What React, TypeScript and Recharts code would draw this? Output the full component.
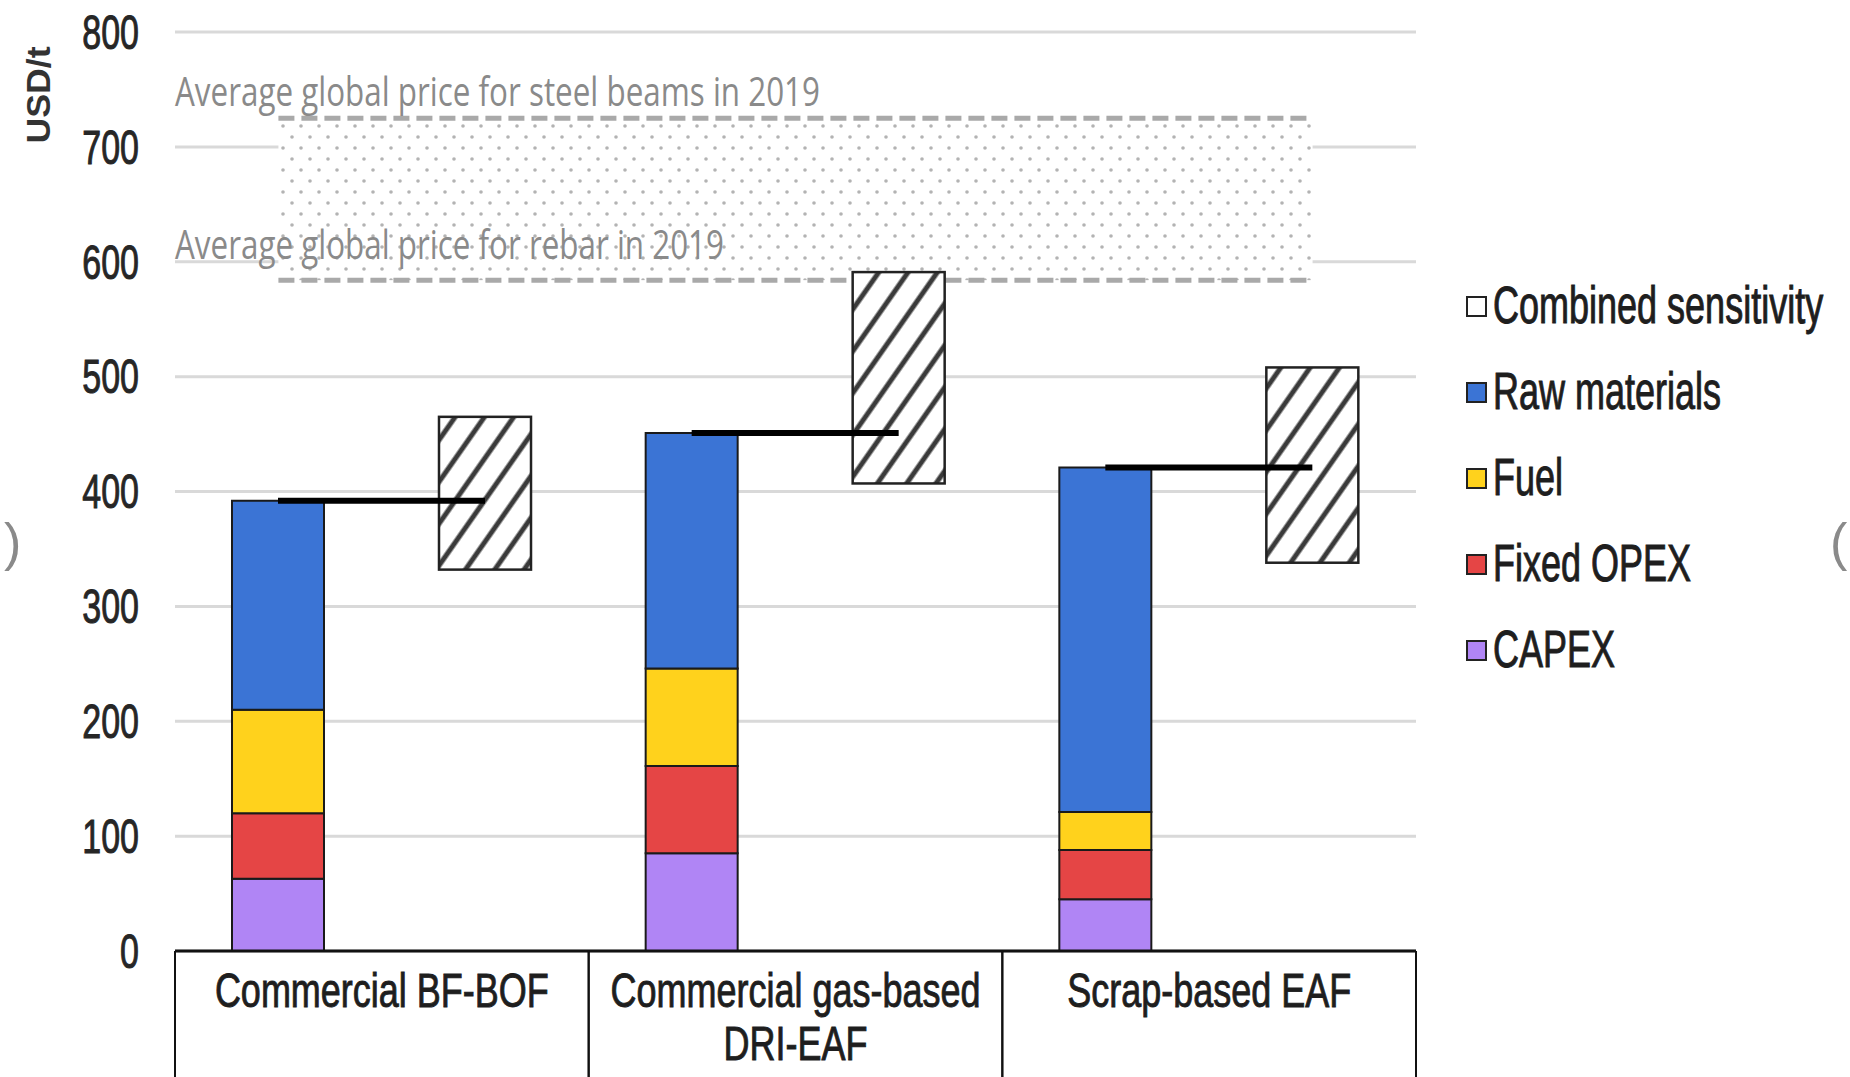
import React from "react";
import { BarChart, Bar, XAxis, YAxis, CartesianGrid, ReferenceArea, Legend } from "recharts";

// values, USD per tonne
const CATEGORIES = ["Commercial BF-BOF", "Commercial gas-based DRI-EAF", "Scrap-based EAF"];
const CATEGORY_LINES = [["Commercial BF-BOF"], ["Commercial gas-based", "DRI-EAF"], ["Scrap-based EAF"]];
const CAPEX = [63, 85, 45];
const FIXED_OPEX = [57, 76, 43];
const FUEL = [90, 85, 33];
const RAW_MATERIALS = [182, 205, 300];
const SENS_LOW = [332, 407, 338];
const SENS_HIGH = [465, 591, 508];
const PRICE_REBAR = 584;
const PRICE_BEAMS = 725;
const Y_TICKS = [0, 100, 200, 300, 400, 500, 600, 700, 800];
const BEAMS_LABEL = "Average global price for steel beams in 2019";
const REBAR_LABEL = "Average global price for rebar in 2019";

const SERIES = [
  { key: "capex", name: "CAPEX", color: "#b085f5" },
  { key: "opex", name: "Fixed OPEX", color: "#e54545" },
  { key: "fuel", name: "Fuel", color: "#ffd21c" },
  { key: "raw", name: "Raw materials", color: "#3b74d5" },
];
const SENS_NAME = "Combined sensitivity";

const data = CATEGORIES.map((name, i) => ({
  name,
  capex: CAPEX[i],
  opex: FIXED_OPEX[i],
  fuel: FUEL[i],
  raw: RAW_MATERIALS[i],
  sensLow: SENS_LOW[i],
  sensHigh: SENS_HIGH[i],
}));

const W = 1850;
const H = 1077;
const PLOT_LEFT = 175;
const PLOT_RIGHT = 1416;
const PLOT_TOP = 32;
const PLOT_BOTTOM = 951;
const BAR_SIZE = 92;
const BAR_GAP = 115;
const FONT = "'Liberation Sans', Arial, sans-serif";

function StretchText({ x, y, size, sy = 1.4, anchor = "start", fill = "#262626", weight = 400, family = FONT, width, bold = 0, children }: any) {
  return (
    <text
      transform={`translate(${x},${y}) scale(1,${sy})`}
      x={0}
      y={0}
      fontSize={size}
      fontFamily={family}
      fontWeight={weight}
      fill={fill}
      stroke={bold ? fill : undefined}
      strokeWidth={bold || undefined}
      textAnchor={anchor}
      dominantBaseline="central"
      textLength={width}
      lengthAdjust={width ? "spacingAndGlyphs" : undefined}
    >
      {children}
    </text>
  );
}

const ValueTick = ({ x, y, payload }: any) => (
  <StretchText x={x} y={y} size={34} sy={1.42} anchor="end" bold={0.7}>
    {payload.value}
  </StretchText>
);

const CategoryTick = ({ x, y, payload }: any) => {
  const band = (PLOT_RIGHT - PLOT_LEFT) / CATEGORIES.length;
  const lines = CATEGORY_LINES[CATEGORIES.indexOf(payload.value)] || [payload.value];
  return (
    <g>
      <line x1={x - band / 2} x2={x - band / 2} y1={y} y2={H} stroke="#111" strokeWidth={2} />
      <line x1={x + band / 2} x2={x + band / 2} y1={y} y2={H} stroke="#111" strokeWidth={2} />
      {lines.map((l: string, i: number) => (
        <StretchText key={i} x={x} y={y + 40 + i * 53} size={36} sy={1.32} anchor="middle" fill="#1e1e1e" bold={0.7}>
          {l}
        </StretchText>
      ))}
    </g>
  );
};

const SensitivityShape = (props: any) => {
  const { x, y, width, height, payload } = props;
  const top = Math.min(y, y + height);
  const h = Math.abs(height);
  const perUnit = h / (payload.sensHigh - payload.sensLow);
  const total = payload.capex + payload.opex + payload.fuel + payload.raw;
  const yTotal = top + (payload.sensHigh - total) * perUnit;
  const cx = x + width / 2;
  return (
    <g>
      <rect x={x} y={top} width={width} height={h} fill="url(#hatch)" stroke="#222" strokeWidth={2.5} />
      <line x1={cx - BAR_SIZE - BAR_GAP} x2={cx} y1={yTotal} y2={yTotal} stroke="#000" strokeWidth={6} />
    </g>
  );
};

const PriceBand = (props: any) => {
  const { x, y, width, height } = props;
  const inset = width / CATEGORIES.length / 4;
  const x1 = x + inset;
  const x2 = x + width - inset;
  return (
    <g>
      <rect x={x1} y={y} width={x2 - x1} height={height} fill="url(#dots)" />
      <line x1={x1} x2={x2} y1={y} y2={y} stroke="#a9a9a9" strokeWidth={5} strokeDasharray="16 7" />
      <line x1={x1} x2={x2} y1={y + height} y2={y + height} stroke="#a9a9a9" strokeWidth={5} strokeDasharray="16 7" />
      <StretchText x={x} y={y - 28} size={29} sy={1.4} fill="#8a8a8a" family="'Open Sans', sans-serif" width={645}>
        {BEAMS_LABEL}
      </StretchText>
      <StretchText x={x} y={y + height - 37} size={29} sy={1.4} fill="#8a8a8a" family="'Open Sans', sans-serif" width={549}>
        {REBAR_LABEL}
      </StretchText>
    </g>
  );
};

const LEGEND_ITEMS = [
  { name: SENS_NAME, color: "#ffffff" },
  ...SERIES.slice().reverse().map((s) => ({ name: s.name, color: s.color })),
];

const renderLegend = () => (
  <div>
    {LEGEND_ITEMS.map((item) => (
      <div key={item.name} style={{ height: 86, display: "flex", alignItems: "center" }}>
        <span
          style={{
            width: 21,
            height: 21,
            boxSizing: "border-box",
            border: "2.5px solid #222",
            background: item.color,
            display: "inline-block",
          }}
        />
        <span
          style={{
            marginLeft: 6,
            fontSize: 36,
            fontFamily: FONT,
            color: "#1e1e1e",
            display: "inline-block",
            transform: "scaleY(1.42)",
            whiteSpace: "nowrap",
            WebkitTextStroke: "0.7px #1e1e1e",
          }}
        >
          {item.name}
        </span>
      </div>
    ))}
  </div>
);

export default function App() {
  return (
    <div style={{ position: "absolute", left: 0, top: 0, width: W, height: H, background: "#fff", overflow: "hidden" }}>
      <BarChart
        width={W}
        height={H}
        data={data}
        margin={{ top: PLOT_TOP, right: W - PLOT_RIGHT, left: 0, bottom: 0 }}
        barSize={BAR_SIZE}
        barGap={BAR_GAP}
      >
        <defs>
          <pattern id="hatch" patternUnits="userSpaceOnUse" width="24" height="24" patternTransform="rotate(35)">
            <rect width="24" height="24" fill="#fff" />
            <line x1="12" y1="0" x2="12" y2="24" stroke="#3a3a3a" strokeWidth="5" />
          </pattern>
          <pattern id="dots" patternUnits="userSpaceOnUse" width="18" height="22">
            <rect width="18" height="22" fill="#fff" />
            <circle cx="4" cy="5" r="1.8" fill="#b3b3b3" />
            <circle cx="13" cy="16" r="1.8" fill="#b3b3b3" />
          </pattern>
        </defs>
        <CartesianGrid vertical={false} stroke="#d9d9d9" strokeWidth={3} />
        <XAxis
          dataKey="name"
          height={H - PLOT_BOTTOM}
          interval={0}
          tickLine={false}
          tickSize={0}
          tickMargin={0}
          axisLine={{ stroke: "#111", strokeWidth: 3 }}
          tick={<CategoryTick />}
        />
        <YAxis
          width={PLOT_LEFT}
          domain={[0, 800]}
          ticks={Y_TICKS}
          interval={0}
          axisLine={false}
          tickLine={false}
          tickSize={0}
          tickMargin={36}
          tick={<ValueTick />}
        />
        <ReferenceArea y1={PRICE_REBAR} y2={PRICE_BEAMS} ifOverflow="visible" shape={<PriceBand />} />
        {SERIES.map((s) => (
          <Bar
            key={s.key}
            dataKey={s.key}
            name={s.name}
            stackId="cost"
            fill={s.color}
            stroke="#1a1a1a"
            strokeWidth={2}
            isAnimationActive={false}
          />
        ))}
        <Bar
          dataKey={(d: any) => [d.sensLow, d.sensHigh]}
          name={SENS_NAME}
          shape={<SensitivityShape />}
          isAnimationActive={false}
        />
        <Legend
          layout="vertical"
          align="center"
          verticalAlign="middle"
          content={renderLegend}
          wrapperStyle={{ left: 1466, top: 263, width: 384 }}
        />
      </BarChart>
      <svg width={W} height={H} style={{ position: "absolute", left: 0, top: 0, pointerEvents: "none" }}>
        <text
          transform="translate(38,95) scale(1,1.05) rotate(-90)"
          fontSize={34}
          fontWeight={700}
          fontFamily={FONT}
          fill="#333"
          textAnchor="middle"
          dominantBaseline="central"
        >
          USD/t
        </text>
        <text x={4} y={560} fontSize={52} fill="#8a8a8a" fontFamily={FONT}>)</text>
        <text x={1830} y={560} fontSize={52} fill="#8a8a8a" fontFamily={FONT}>(</text>
      </svg>
    </div>
  );
}
